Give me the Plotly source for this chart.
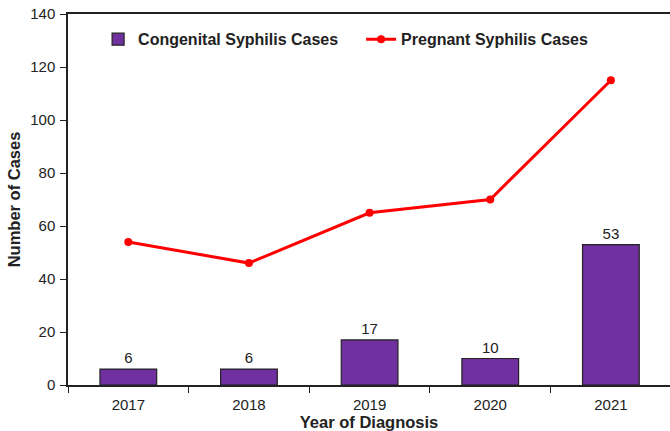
import plotly.graph_objects as go

years = ["2017", "2018", "2019", "2020", "2021"]
congenital = [6, 6, 17, 10, 53]
pregnant = [54, 46, 65, 70, 115]
y_ticks = [0, 20, 40, 60, 80, 100, 120, 140]

FONT = "Liberation Sans, Arial, sans-serif"
INK = "#222222"

fig = go.Figure()
fig.add_trace(go.Bar(
    x=years, y=congenital, name="Congenital Syphilis Cases",
    marker=dict(color="#7030A0", line=dict(color=INK, width=1.2)),
    width=0.47,
    text=[str(v) for v in congenital], textposition="outside",
    textfont=dict(family=FONT, size=15, color=INK),
    cliponaxis=False,
))
fig.add_trace(go.Scatter(
    x=years, y=pregnant, name="Pregnant Syphilis Cases",
    mode="lines+markers",
    line=dict(color="#FF0000", width=3),
    marker=dict(color="#FF0000", size=8),
))

fig.update_layout(
    width=670, height=431,
    margin=dict(l=68, r=0, t=14, b=46, autoexpand=False),
    plot_bgcolor="white", paper_bgcolor="white",
    font=dict(family=FONT, size=15, color=INK),
    showlegend=True,
    legend=dict(
        orientation="h", x=0.05, y=0.932, xanchor="left", yanchor="middle",
        font=dict(family=FONT, size=16, color=INK, weight="bold"),
        bgcolor="rgba(0,0,0,0)", entrywidth=218, traceorder="normal",
    ),
    xaxis=dict(
        type="category", range=[-0.5, 4.49], automargin=False,
        showline=True, linecolor=INK, linewidth=1.5, mirror=True,
        ticks="outside", tickson="boundaries", ticklen=6, tickcolor=INK,
        ticklabelstandoff=5,
        tickfont=dict(family=FONT, size=15, color=INK),
        title=dict(text="Year of Diagnosis", font=dict(family=FONT, size=16.5, color=INK, weight="bold"), standoff=3),
        showgrid=False,
    ),
    yaxis=dict(
        range=[0, 140], tickvals=y_ticks, automargin=False,
        showline=True, linecolor=INK, linewidth=1.5,
        ticks="outside", ticklen=6, tickcolor=INK,
        ticklabelstandoff=2,
        tickfont=dict(family=FONT, size=15, color=INK),
        title=dict(text="Number of Cases", font=dict(family=FONT, size=16.5, color=INK, weight="bold"), standoff=5),
        showgrid=False, zeroline=False,
    ),
)

fig.write_html("out.html", config={"displayModeBar": False},
               post_script="document.body.style.margin='0';")
